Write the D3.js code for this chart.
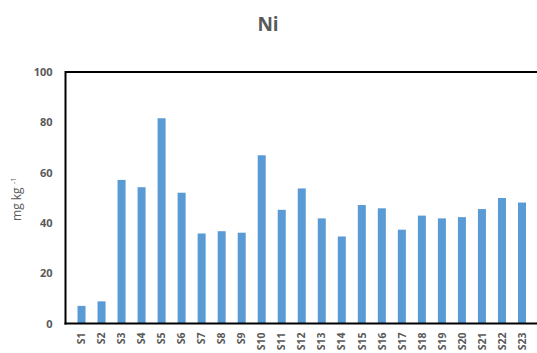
<!DOCTYPE html>
<html><head><meta charset="utf-8">
<script src="https://cdn.jsdelivr.net/npm/d3@7/dist/d3.min.js"></script>
<style>body{margin:0;background:#fff;} svg{display:block;}</style>
</head><body>
<script>
const categories = ["S1","S2","S3","S4","S5","S6","S7","S8","S9","S10","S11","S12","S13","S14","S15","S16","S17","S18","S19","S20","S21","S22","S23"];
const values = [7.0,8.8,57.1,54.2,81.6,52.0,35.8,36.7,36.1,66.9,45.2,53.7,41.8,34.6,47.1,45.8,37.3,42.9,41.8,42.3,45.5,49.9,48.1];
const yTicks = [0,20,40,60,80,100];

const W = 537, H = 353;
const m = {left:65.5, right:-1, top:72, bottom:29.5};
const svg = d3.select("body").append("svg").attr("width",W).attr("height",H);

const x = d3.scaleBand().domain(categories).range([m.left, W - m.right]).padding(0.6);
const y = d3.scaleLinear().domain([0,100]).range([H - m.bottom, m.top]);

svg.append("text").attr("x",268).attr("y",31).attr("text-anchor","middle")
  .attr("font-family","Open Sans, Liberation Sans, sans-serif").attr("font-weight","bold")
  .attr("font-size",19).attr("fill","#595959").text("Ni");

svg.append("g").selectAll("rect").data(values).join("rect")
  .attr("x",(d,i)=>x(categories[i])).attr("width",x.bandwidth())
  .attr("y",d=>y(d)).attr("height",d=>y(0)-y(d)).attr("fill","#5b9bd5");

svg.append("line").attr("x1",m.left).attr("x2",W).attr("y1",y(100)).attr("y2",y(100)).attr("stroke","#000").attr("stroke-width",2);
svg.append("line").attr("x1",m.left).attr("x2",m.left).attr("y1",y(100)-1).attr("y2",y(0)+1).attr("stroke","#000").attr("stroke-width",2);
svg.append("line").attr("x1",m.left-1).attr("x2",W).attr("y1",y(0)).attr("y2",y(0)).attr("stroke","#000").attr("stroke-width",2);

const ya = svg.append("g").attr("transform",`translate(${m.left},0)`)
  .call(d3.axisLeft(y).tickValues(yTicks).tickSize(0).tickPadding(13));
ya.select(".domain").remove();
ya.selectAll("text").attr("font-family","Open Sans, Liberation Sans, sans-serif").attr("font-weight","bold")
  .attr("font-size",11).attr("fill","#595959");

const xa = svg.append("g").attr("transform",`translate(0,${y(0)})`)
  .call(d3.axisBottom(x).tickSize(0));
xa.select(".domain").remove();
xa.selectAll("text").attr("font-family","Open Sans, Liberation Sans, sans-serif").attr("font-weight","bold")
  .attr("font-size",10.5).attr("fill","#595959")
  .attr("transform","rotate(-90)").attr("text-anchor","end")
  .attr("x",-9).attr("y",0).attr("dy","0.35em");

const yl = svg.append("text").attr("transform","translate(21,199) rotate(-90)")
  .attr("text-anchor","middle").attr("font-family","Open Sans, Liberation Sans, sans-serif")
  .attr("font-size",12).attr("fill","#595959");
yl.append("tspan").text("mg kg ");
yl.append("tspan").attr("font-size",8).attr("dy",-5).text("-1");
</script>
</body></html>
